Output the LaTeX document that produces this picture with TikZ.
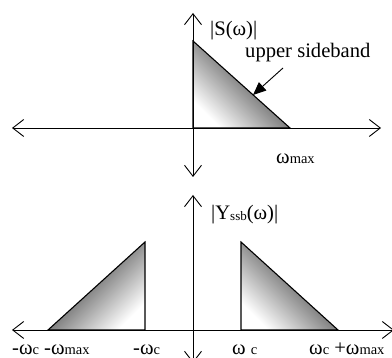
\documentclass[tikz,border=0pt]{standalone}
\usepackage{fontspec}
\setmainfont{Liberation Serif}
\usetikzlibrary{arrows.meta}
\newcommand{\bigsz}{\fontsize{20.6}{24}\selectfont}
\newcommand{\smsz}{\fontsize{14.5}{17}\selectfont}
\tikzset{
  axis/.style={line width=0.9pt, {Straight Barb[length=11pt,width=17pt,line width=0.9pt]}-{Straight Barb[length=11pt,width=17pt,line width=0.9pt]}},
  band/.style={draw=black, line width=1.1pt, line join=miter},
  lbl/.style={inner sep=0pt, anchor=base west, font=\bigsz},
  pointer/.style={line width=0.9pt, -{Triangle[length=13pt,width=11pt]}}
}
\begin{document}
\begin{tikzpicture}[x=1pt,y=-1pt]
\useasboundingbox (0,0) rectangle (392,358);
% top panel coordinates
\coordinate (hl1) at (12,128);
\coordinate (hr1) at (381,128);
\coordinate (vt1) at (193,13);
\coordinate (vb1) at (193,177);
\coordinate (a1) at (193,41);
\coordinate (b1) at (193,128);
\coordinate (c1) at (290,128);
% bottom panel coordinates
\coordinate (hl2) at (12,330);
\coordinate (hr2) at (394,330);
\coordinate (vt2) at (193,195);
\coordinate (vb2) at (193,363);
\coordinate (a2) at (48,330);
\coordinate (b2) at (145,330);
\coordinate (c2) at (145,242);
\coordinate (a3) at (241,242);
\coordinate (b3) at (241,330);
\coordinate (c3) at (338,330);
% shaded triangles
\shade[top color=black!92, bottom color=white, shading angle=-45] (a1) -- (b1) -- (c1) -- cycle;
\draw[band] (a1) -- (b1) -- (c1) -- cycle;
\shade[top color=black!92, bottom color=white, shading angle=45] (a2) -- (b2) -- (c2) -- cycle;
\draw[band] (a2) -- (b2) -- (c2) -- cycle;
\shade[top color=black!92, bottom color=white, shading angle=-45] (a3) -- (b3) -- (c3) -- cycle;
\draw[band] (a3) -- (b3) -- (c3) -- cycle;
% axes
\draw[axis] (hl1) -- (hr1);
\draw[axis] (vt1) -- (vb1);
\draw[axis] (hl2) -- (hr2);
\draw[axis] (vt2) -- (vb2);
% labels
\node[lbl] (s) at (210,36) {|S(ω)|};
\node[lbl] (usb) at (245,58) {upper sideband};
\node[lbl] (wmax) at (276,164) {ω{\smsz max}};
\node[lbl] (y) at (211,220) {|Y\raisebox{-1pt}{\fontsize{13}{15}\selectfont ssb}(ω)|};
\node[lbl] (l1) at (12,355) {-ω{\smsz c} -ω{\smsz max}};
\node[lbl] (l2) at (133,355) {-ω{\smsz c}};
\node[lbl] (l3) at (232,355) {ω {\smsz c}};
\node[lbl] (l4) at (309,355) {ω{\smsz c} +ω{\smsz max}};
% pointer
\coordinate (p0) at (283,68);
\coordinate (p1) at (253,95);
\draw[pointer] (p0) -- (p1);
\end{tikzpicture}
\end{document}
